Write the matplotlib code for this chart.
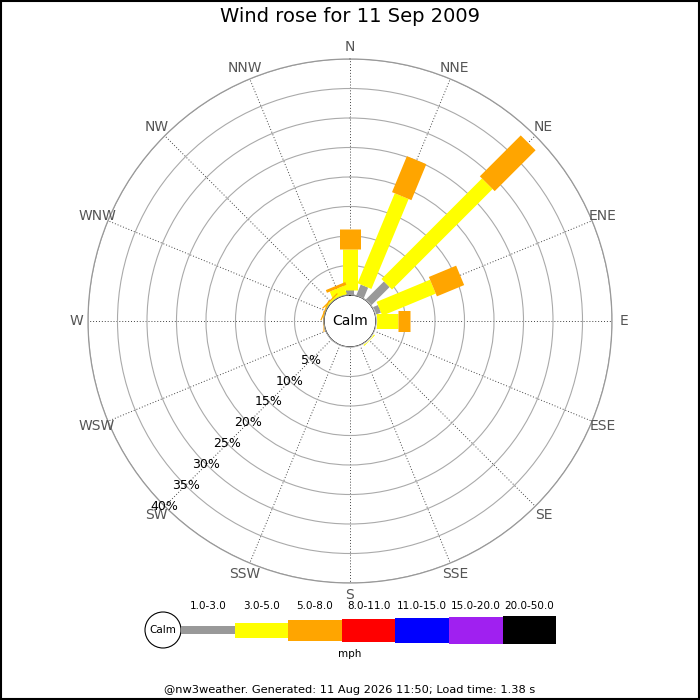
import numpy as np
import matplotlib
matplotlib.use("Agg")
import matplotlib.pyplot as plt
from matplotlib.patches import Rectangle, Circle

# wind directions and percentage of time per speed band (mph)
directions = ["N", "NNE", "NE", "ENE", "E", "ESE", "SE", "SSE",
              "S", "SSW", "SW", "WSW", "W", "WNW", "NW", "NNW"]
speed_ranges = ["1.0-3.0", "3.0-5.0", "5.0-8.0", "8.0-11.0",
                "11.0-15.0", "15.0-20.0", "20.0-50.0"]
range_colors = ["#999999", "#ffff00", "#ffa500", "#ff0000",
                "#0000ff", "#a020f0", "#000000"]

pct_1_3 = [0.9, 2.0, 4.4, 1.0, 0.0, 0.0, 0.0, 0.0,
           0.0, 0.0, 0.0, 0.0, 0.0, 0.0, 0.0, 0.0]
pct_3_5 = [6.9, 16.5, 24.1, 9.8, 3.7, 0.0, 0.3, 0.0,
           0.0, 0.0, 0.0, 0.0, 0.0, 0.1, 0.3, 1.5]
pct_5_8 = [3.4, 6.6, 9.8, 5.0, 2.1, 0.0, 0.0, 0.0,
           0.0, 0.0, 0.0, 0.0, 0.2, 0.2, 0.2, 0.5]
ring_pcts = [5, 10, 15, 20, 25, 30, 35, 40]

title = "Wind rose for 11 Sep 2009"
footer = "@nw3weather. Generated: 11 Aug 2026 11:50; Load time: 1.38 s"

bands = [pct_1_3, pct_3_5, pct_5_8]
bar_widths_px = [8, 15, 21, 23, 25, 27, 28]

W, H = 700, 700
fig = plt.figure(figsize=(7, 7), dpi=100)
fig.patch.set_facecolor("white")

cx, cy, R = 350, 321, 262
calm_r = 26
rmax = 40
rorig = -rmax * calm_r / (R - calm_r)

ax = fig.add_axes([(cx - R) / W, (H - cy - R) / H, 2 * R / W, 2 * R / H],
                  projection="polar")
ax.set_theta_zero_location("N")
ax.set_theta_direction(-1)
ax.set_ylim(0, rmax)
ax.set_rorigin(rorig)

thetas = np.deg2rad(np.arange(16) * 22.5)
ax.set_xticks(thetas)
ax.set_xticklabels([])
ax.set_yticks(ring_pcts)
ax.set_yticklabels([])
ax.xaxis.grid(True, color="#444444", linestyle=(0, (1, 2)), linewidth=0.7)
ax.yaxis.grid(True, color="#aaaaaa", linestyle="-", linewidth=0.8)
ax.spines["polar"].set_color("#999999")
ax.spines["polar"].set_linewidth(0.9)
ax.tick_params(length=0)

# bars
for i, th in enumerate(thetas):
    start = 0.0
    for k, band in enumerate(bands):
        v = band[i]
        if v <= 0:
            continue
        ax.plot([th, th], [start, start + v], color=range_colors[k],
                lw=bar_widths_px[k] * 0.72, solid_capstyle="butt", zorder=3 + k)
        start += v

# calm circle
tt = np.linspace(0, 2 * np.pi, 300)
ax.fill_between(tt, rorig, 0, color="white", zorder=8)
ax.plot(tt, np.zeros_like(tt), color="#999999", lw=0.9, zorder=9)
ax.text(0.5, 0.5, "Calm", transform=ax.transAxes, ha="center", va="center",
        fontsize=10, zorder=10)

# direction labels
for th, d in zip(thetas, directions):
    ax.text(th, 42.0, d, ha="center", va="center", fontsize=10,
            color="#555555", clip_on=False)

# ring labels along SW
for p in ring_pcts:
    ax.text(np.deg2rad(225), p, f"{p}%", ha="center", va="center",
            fontsize=9, color="black", zorder=10)

# title / legend / footer on an overlay in pixel coords
ov = fig.add_axes([0, 0, 1, 1])
ov.set_xlim(0, W)
ov.set_ylim(H, 0)
ov.axis("off")
ov.patch.set_alpha(0)

ov.text(350, 17, title, ha="center", va="center", fontsize=14)

seg_w = 53.6
lx0 = 181
ly = 630
ov.add_patch(Circle((163, ly), 18, facecolor="white", edgecolor="black", lw=0.8))
ov.text(163, ly, "Calm", ha="center", va="center", fontsize=7.5)
for k, (lab, col) in enumerate(zip(speed_ranges, range_colors)):
    x = lx0 + k * seg_w
    h = bar_widths_px[k] if k else 8
    ov.add_patch(Rectangle((x, ly - h / 2), seg_w, h, facecolor=col, edgecolor="none"))
    ov.text(x + seg_w / 2, 606, lab, ha="center", va="center", fontsize=7.5)
ov.text(350, 654, "mph", ha="center", va="center", fontsize=7.5)

ov.text(350, 690, footer, ha="center", va="center", fontsize=8.2)

ov.add_patch(Rectangle((1, 1), W - 2, H - 2, facecolor="none", edgecolor="black", lw=1.5))

fig.savefig("out.png", dpi=100)
